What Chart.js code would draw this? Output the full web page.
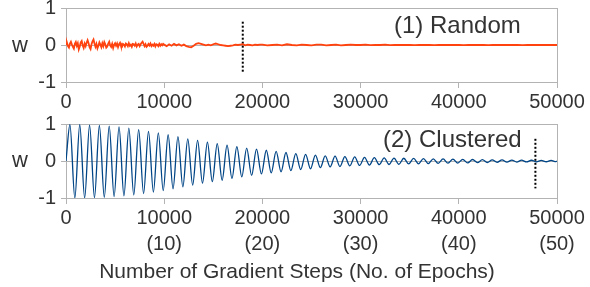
<!DOCTYPE html>
<html lang="en">
<head>
  <meta charset="UTF-8">
  <title>Random vs Clustered</title>
  <script src="https://cdn.jsdelivr.net/npm/chart.js"></script>
  <style>
    body {
      margin: 0;
      background: #fff;
      font-family: 'Liberation Sans', Arial, sans-serif;
      color: #333;
    }
    #wrap { position: relative; width: 590px; height: 287px; overflow: hidden; }
    canvas { position: absolute; left: 0; }
    #topChart { top: -5px; }
    #bottomChart { top: 111px; }
    .lbl { position: absolute; white-space: nowrap; line-height: 1; color: #333; }
  </style>
</head>
<body>
<div id="wrap">
  <canvas id="topChart" width="590" height="120"></canvas>
  <canvas id="bottomChart" width="590" height="176"></canvas>
  <div class="lbl" style="left:12px;top:34px;font-size:22px">w</div>
  <div class="lbl" style="left:12px;top:149px;font-size:22px">w</div>
  <div class="lbl" style="left:394px;top:13px;font-size:24px">(1) Random</div>
  <div class="lbl" style="left:383px;top:127px;font-size:24px">(2) Clustered</div>
  <div class="lbl" style="left:0;width:594px;text-align:center;top:260px;font-size:21px">Number of Gradient Steps (No. of Epochs)</div>
</div>

<script>
  // x axis tick labels
  const stepLabels = ['0', '10000', '20000', '30000', '40000', '50000'];
  const epochLabels = ['', '(10)', '(20)', '(30)', '(40)', '(50)'];

  // (1) Random: w every 100 steps up to 10000
  const randomA = [
    0.02, 0.06, -0.03, -0.07, 0.04, 0.09, 0.01, -0.05, -0.10, 0.03,
    0.08, -0.02, 0.05, -0.12, -0.04, 0.07, 0.11, -0.01, -0.08, 0.04,
    -0.03, 0.06, 0.13, 0.05, -0.06, -0.11, 0.02, 0.10, 0.15, 0.04,
    -0.05, 0.03, -0.09, -0.02, 0.07, 0.01, -0.06, 0.05, -0.03, 0.08,
    0.02, -0.07, -0.04, 0.04, 0.09, -0.01, -0.05, 0.03, -0.08, 0.01,
    0.05, -0.02, 0.04, -0.06, 0.02, 0.06, -0.03, -0.05, 0.03, 0.01,
    -0.04, 0.04, 0.02, -0.03, 0.05, -0.02, 0.01, -0.05, 0.03, 0.02,
    -0.02, 0.04, -0.04, 0.01, 0.03, -0.03, 0.02, 0.06, 0.09, 0.03,
    -0.03, 0.02, -0.05, -0.02, 0.03, -0.01, 0.04, -0.03, 0.01, -0.02,
    0.03, -0.04, 0.02, 0.01, -0.03, 0.03, -0.02, 0.02, -0.01, 0.03
  ];
  // every 250 steps from 10000 to 19750
  const randomB = [
    0.01, -0.03, 0.02, -0.02, 0.03, -0.01, 0.02, -0.02, 0.01, -0.03,
    -0.05, -0.06, -0.02, 0.03, 0.05, 0.03, 0.01, -0.01, 0.01, -0.01,
    0.02, 0.04, 0.02, 0.0, -0.01, -0.02, -0.03, -0.02, -0.01, 0.01,
    0.0, 0.01, 0.02, -0.01, 0.01, 0.0, -0.01, 0.01, 0.0, 0.01
  ];
  // every 500 steps from 20000 to 50000
  const randomC = [
    0.01, -0.01, 0.0, 0.01, -0.01, 0.02, 0.0, -0.01, 0.01, 0.0,
    -0.01, 0.01, 0.01, -0.01, 0.0, 0.01, -0.01, 0.0, 0.01, 0.0,
    0.0, 0.01, -0.005, 0.005, 0.0, 0.01, -0.005, 0.0, 0.005, 0.0,
    0.005, -0.005, 0.0, 0.005, 0.0, -0.005, 0.005, 0.0, 0.0, 0.005,
    0.0, -0.005, 0.0, 0.005, 0.0, 0.0, -0.005, 0.005, 0.0, 0.0,
    0.005, 0.0, 0.0, -0.005, 0.0, 0.0, 0.005, 0.0, 0.0, 0.0, 0.0
  ];

  // (2) Clustered: one peak and one trough per epoch (1000 steps)
  const clusteredPeaks = [
    0.98, 0.98, 0.97, 0.96, 0.94, 0.92, 0.89, 0.85, 0.80, 0.76,
    0.71, 0.66, 0.60, 0.56, 0.51, 0.47, 0.43, 0.39, 0.35, 0.32,
    0.29, 0.26, 0.23, 0.20, 0.18, 0.16, 0.14, 0.13, 0.12, 0.11,
    0.10, 0.09, 0.085, 0.08, 0.075, 0.07, 0.065, 0.06, 0.055, 0.05,
    0.045, 0.04, 0.036, 0.032, 0.028, 0.025, 0.022, 0.02, 0.018, 0.016
  ];
  const clusteredTroughs = [
    -1.0, -1.0, -0.99, -0.98, -0.96, -0.94, -0.92, -0.88, -0.84, -0.80,
    -0.75, -0.70, -0.65, -0.60, -0.56, -0.52, -0.47, -0.43, -0.39, -0.35,
    -0.32, -0.29, -0.26, -0.23, -0.21, -0.18, -0.16, -0.15, -0.13, -0.12,
    -0.11, -0.10, -0.095, -0.09, -0.08, -0.075, -0.07, -0.065, -0.06, -0.055,
    -0.05, -0.045, -0.04, -0.036, -0.032, -0.028, -0.025, -0.022, -0.02, -0.018
  ];

  // dotted markers: [step, top w, bottom w]
  const randomMarker = [18000, 0.63, -0.73];
  const clusteredMarker = [47800, 0.60, -0.74];

  const FONT = 'Liberation Sans, Arial, sans-serif';
  const GRID = '#b3b3b3';

  const randomPoints = randomA.map((w, i) => ({ x: i * 100, y: w }))
    .concat(randomB.map((w, i) => ({ x: 10000 + i * 250, y: w })))
    .concat(randomC.map((w, i) => ({ x: 20000 + i * 500, y: w })));

  const clusteredPoints = [{ x: 0, y: 0 }];
  clusteredPeaks.forEach((p, i) => {
    clusteredPoints.push({ x: i * 1000 + 400, y: p });
    clusteredPoints.push({ x: i * 1000 + 900, y: clusteredTroughs[i] });
  });
  clusteredPoints.push({ x: 50000, y: 0 });

  function markerSet(m) {
    return {
      data: [{ x: m[0], y: m[1] }, { x: m[0], y: m[2] }],
      borderColor: '#000',
      borderWidth: 2,
      borderDash: [2, 2],
      pointRadius: 0
    };
  }

  function panelOptions(xHeight, twoLine) {
    return {
      responsive: false,
      animation: false,
      layout: { padding: { top: 8, right: 33, left: 0, bottom: 0 } },
      plugins: { legend: { display: false }, tooltip: { enabled: false } },
      elements: { point: { radius: 0 } },
      scales: {
        x: {
          type: 'linear',
          min: 0,
          max: 50000,
          ticks: {
            stepSize: 10000,
            maxRotation: 0,
            color: '#333',
            padding: 1,
            font: { family: FONT, size: 20, lineHeight: 1.33 },
            callback: (v, i) => twoLine && i > 0 ? [stepLabels[i], epochLabels[i]] : stepLabels[i]
          },
          grid: {
            color: c => (c.tick && (c.tick.value === 0 || c.tick.value === 50000)) ? GRID : 'rgba(0,0,0,0)',
            tickColor: GRID,
            tickLength: 6
          },
          border: { color: GRID },
          afterFit: s => { s.height = xHeight; }
        },
        y: {
          min: -1,
          max: 1,
          ticks: {
            stepSize: 1,
            color: '#333',
            padding: 5,
            font: { family: FONT, size: 20, lineHeight: 0.8 }
          },
          grid: { color: GRID, tickLength: 5 },
          border: { color: GRID },
          afterFit: s => { s.width = 66; }
        }
      }
    };
  }

  new Chart(document.getElementById('topChart'), {
    type: 'line',
    data: {
      datasets: [
        { data: randomPoints, borderColor: '#ff420e', borderWidth: 1.8, pointRadius: 0, tension: 0 },
        markerSet(randomMarker)
      ]
    },
    options: panelOptions(33, false)
  });

  new Chart(document.getElementById('bottomChart'), {
    type: 'line',
    data: {
      datasets: [
        { data: clusteredPoints, borderColor: '#004586', borderWidth: 1.3, pointRadius: 0, cubicInterpolationMode: 'monotone' },
        markerSet(clusteredMarker)
      ]
    },
    options: panelOptions(89, true)
  });
</script>
</body>
</html>
